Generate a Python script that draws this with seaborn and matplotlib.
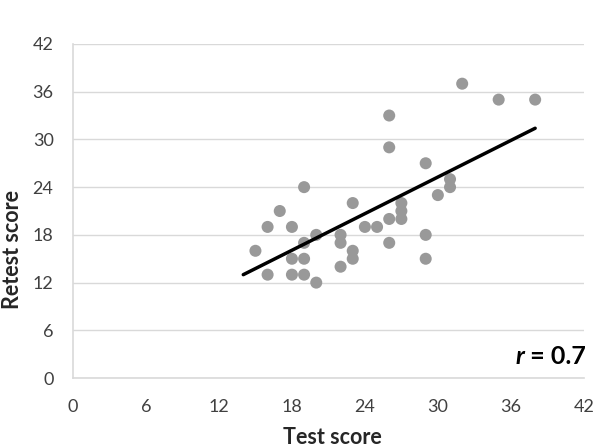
import numpy as np
import pandas as pd
import matplotlib
matplotlib.use("Agg")
import matplotlib.pyplot as plt
import seaborn as sns

test_score = [15,16,16,17,18,18,18,19,19,19,19,20,20,22,22,22,23,23,23,24,25,
              26,26,26,26,27,27,27,29,29,29,30,31,31,32,35,38]
retest_score = [16,19,13,21,19,15,13,24,17,15,13,18,12,18,17,14,22,16,15,19,19,
                33,29,20,17,22,21,20,27,18,15,23,25,24,37,35,35]
ticks = [0, 6, 12, 18, 24, 30, 36, 42]
trend_x = [14, 38]
trend_y = [13.0, 31.4]
r_label = "0.7"

df = pd.DataFrame({"Test score": test_score, "Retest score": retest_score})
trend = pd.DataFrame({"x": trend_x, "y": trend_y})

sns.set_theme(style="white")
plt.rcParams['font.family'] = ['Lato', 'DejaVu Sans']

fig = plt.figure(figsize=(6, 4.48), dpi=100)
ax = fig.add_axes([0.1217, 0.156, 0.8513, 0.746])

sns.scatterplot(data=df, x="Test score", y="Retest score", ax=ax,
                color="#999999", s=75, edgecolor="none", zorder=3)
sns.lineplot(data=trend, x="x", y="y", ax=ax, color="black", lw=2.5, zorder=4)

ax.set_xlim(0, 42)
ax.set_ylim(0, 42)
ax.set_xticks(ticks)
ax.set_yticks(ticks)
ax.tick_params(axis="x", labelsize=13, colors="#404040", length=0, pad=15)
ax.tick_params(axis="y", labelsize=13, colors="#404040", length=0, pad=14)
ax.yaxis.grid(True, color="#D9D9D9", lw=1)
ax.xaxis.grid(False)
for s in ["top", "right"]:
    ax.spines[s].set_visible(False)
for s in ["left", "bottom"]:
    ax.spines[s].set_color("#D9D9D9")
    ax.spines[s].set_linewidth(1.2)

ax.set_xlabel("")
ax.set_ylabel("")
fig.text(332 / 600, 1 - 444 / 448, "Test score", ha="center", va="baseline",
         fontsize=15.5, fontweight="bold", color="#262626")
fig.text(19 / 600, 1 - 249.5 / 448, "Retest score", ha="center", va="baseline",
         rotation=90, rotation_mode="anchor",
         fontsize=15.5, fontweight="bold", color="#262626")

t2 = ax.text(1.004, 0.066, " = " + r_label, transform=ax.transAxes, ha="right",
             va="center", fontsize=18, fontweight="bold", color="black")
fig.canvas.draw()
bb = t2.get_window_extent()
inv = ax.transAxes.inverted()
x0 = inv.transform((bb.x0, bb.y0))[0]
ax.text(x0, 0.066, "r", transform=ax.transAxes, ha="right", va="center",
        fontsize=18, fontweight="bold", fontstyle="italic", color="black")

fig.savefig("out.png", dpi=100)
